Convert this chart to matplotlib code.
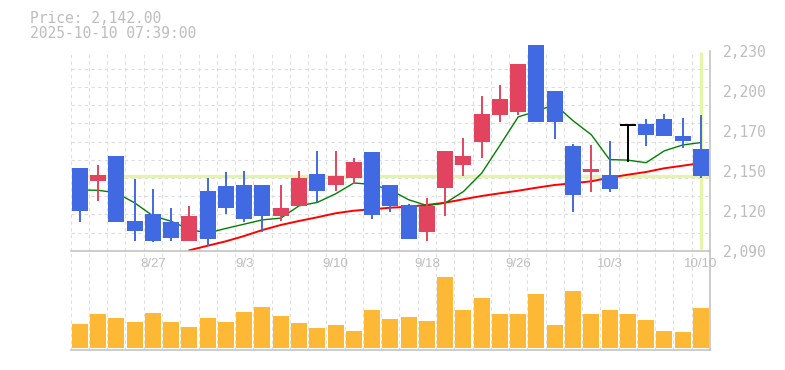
import numpy as np
import matplotlib
matplotlib.use('Agg')
import matplotlib.pyplot as plt

# daily candles 8/21 .. 10/10
dates = ['8/21', '8/22', '8/25', '8/26', '8/27', '8/28', '8/29', '9/1', '9/2', '9/3',
         '9/4', '9/5', '9/8', '9/9', '9/10', '9/11', '9/12', '9/16', '9/17', '9/18',
         '9/19', '9/22', '9/24', '9/25', '9/26', '9/29', '9/30', '10/1', '10/2', '10/3',
         '10/6', '10/7', '10/8', '10/9', '10/10']

opens = [2148, 2139, 2156, 2111, 2116, 2110, 2097, 2132, 2135, 2136,
         2136, 2114, 2121, 2144, 2136, 2141, 2159, 2136, 2122, 2103,
         2134, 2150, 2166, 2185, 2187, 2234, 2202, 2163, 2145, 2143,
         2178, 2179, 2182, 2170, 2161]
highs = [2148, 2150, 2156, 2140, 2133, 2120, 2121, 2141, 2145, 2146,
         2136, 2136, 2146, 2160, 2160, 2155, 2159, 2136, 2123, 2127,
         2160, 2169, 2198, 2206, 2221, 2234, 2202, 2165, 2164, 2167,
         2178, 2182, 2186, 2183, 2185]
lows = [2110, 2125, 2110, 2097, 2096, 2097, 2097, 2093, 2116, 2110,
        2103, 2111, 2121, 2124, 2132, 2137, 2112, 2117, 2098, 2097,
        2114, 2142, 2155, 2180, 2185, 2180, 2168, 2117, 2131, 2131,
        2152, 2163, 2170, 2162, 2141]
closes = [2118, 2143, 2110, 2104, 2097, 2099, 2114, 2098, 2120, 2112,
          2114, 2120, 2141, 2132, 2142, 2152, 2115, 2121, 2098, 2121,
          2160, 2156, 2186, 2196, 2221, 2180, 2180, 2129, 2147, 2133,
          2178, 2171, 2170, 2167, 2142]

# moving averages
ma_short = [2132.5, 2132.3, 2130.5, 2123.5, 2114.4, 2110.6, 2104.8, 2102.4, 2105.6, 2108.6,
            2111.6, 2112.8, 2121.4, 2123.8, 2129.8, 2137.4, 2136.4, 2132.5, 2125.7, 2121.6,
            2123.3, 2131.4, 2144.3, 2163.8, 2183.7, 2187.6, 2192.4, 2181.0, 2171.2, 2153.8,
            2153.4, 2151.6, 2159.9, 2164.0, 2165.7]
ma_long = [np.nan] * 6 + [2090.3, 2093.5, 2096.6, 2100.3,
           2104.5, 2108.0, 2110.8, 2113.4, 2116.2, 2118.0, 2119.0, 2120.1, 2120.8, 2122.0,
           2123.6, 2126.0, 2128.3, 2130.2, 2132.0, 2134.1, 2136.0, 2137.2, 2138.6, 2141.1,
           2143.2, 2145.1, 2147.7, 2149.5, 2151.3]

volumes = [24300, 34300, 30000, 26000, 35300, 26000, 21300, 30000, 26000, 36000,
           41000, 32000, 25000, 20000, 23000, 17000, 38000, 29000, 31000, 27000,
           71300, 38000, 50000, 34300, 34300, 54300, 23000, 57300, 34300, 38000,
           34300, 28000, 17000, 16000, 40000]

last_price = 2142.0
label_idx = [4, 9, 14, 19, 24, 29, 34]
ytick_vals = [2090, 2118, 2146, 2174, 2202, 2230]
ytick_labels = ['2,090', '2,120', '2,150', '2,170', '2,200', '2,230']

BLUE = '#4169E1'
RED = '#E2445F'
GRID = '#DDDDDD'
TXT = '#BDBDBD'
MONO = 'DejaVu Sans Mono'

W, H = 785, 370
fig = plt.figure(figsize=(W / 100, H / 100), dpi=100)
axv = fig.add_axes([70.7 / W, 20 / H, 639.3 / W, 99.3 / H])
ax = fig.add_axes([70.7 / W, (H - 250.7) / H, 639.3 / W, 200 / H])
ax.set_zorder(2)
ax.patch.set_visible(False)

x = np.arange(len(dates))
o = np.array(opens, float)
c = np.array(closes, float)

# --- price panel
ax.set_xlim(-0.5, len(dates) - 0.5)
ax.set_ylim(2090, 2230)
ax.set_axisbelow(True)
ax.set_xticks(np.arange(-0.5, len(dates), 1), minor=True)
ax.set_yticks(2090 + np.arange(12) * 140 / 11, minor=True)
ax.grid(which='minor', color=GRID, linestyle=(0, (3, 3)), linewidth=0.8)
ax.tick_params(which='minor', length=0)

ax.axhline(last_price, color='#E2F5A8', lw=2.4, zorder=1.5)
ax.vlines(x[-1], 2091.5, 2229.3, color='#E2F5A8', lw=2.2, zorder=1.5)

ax.plot(x, ma_long, color='#FF0000', lw=1.4, zorder=2)
ax.plot(x, ma_short, color='#008000', lw=1.0, zorder=2)

colors = [BLUE if cc < oo else (RED if cc > oo else 'black') for oo, cc in zip(o, c)]
ax.vlines(x, lows, highs, colors=colors, lw=1.4, zorder=3, clip_on=False)
bottoms = np.minimum(o, c)
heights = np.abs(c - o)
flat = heights == 0
bottoms[flat] -= 0.7
heights[flat] = 1.4
ax.bar(x, heights, bottom=bottoms, width=0.876, color=colors, zorder=4, clip_on=False)

ax.set_xticks(label_idx)
ax.set_xticklabels([dates[i] for i in label_idx], family='Liberation Sans', size=9.5, color=TXT)
ax.tick_params(axis='x', which='major', length=0, pad=5)
ax.yaxis.tick_right()
ax.set_yticks(ytick_vals)
ax.set_yticklabels(ytick_labels, family=MONO, size=10.5, color=TXT)
ax.tick_params(axis='y', which='major', length=0, pad=9)

for s in ['top', 'left']:
    ax.spines[s].set_visible(False)
for s in ['bottom', 'right']:
    ax.spines[s].set_color('#BFBFBF')
    ax.spines[s].set_linewidth(1.1)

# --- volume panel
axv.set_xlim(-0.5, len(dates) - 0.5)
axv.set_ylim(-2000, 97300)
axv.set_axisbelow(True)
axv.bar(x, volumes, width=0.876, color='#FDB835', zorder=3)
axv.set_xticks(np.arange(-0.5, len(dates), 1), minor=True)
axv.set_xticks([])
axv.set_yticks([])
axv.grid(which='minor', axis='x', color=GRID, linestyle=(0, (3, 3)), linewidth=0.8)
axv.tick_params(which='both', length=0)
for s in ['top', 'left']:
    axv.spines[s].set_visible(False)
for s in ['bottom', 'right']:
    axv.spines[s].set_color('#BFBFBF')
    axv.spines[s].set_linewidth(1.1)

fig.text(30 / W, 1 - 23.3 / H, 'Price: 2,142.00', family=MONO, size=10.5, color=TXT, va='baseline')
fig.text(30 / W, 1 - 37.5 / H, '2025-10-10 07:39:00', family=MONO, size=10.5, color=TXT, va='baseline')

fig.savefig('out.png', dpi=100)
